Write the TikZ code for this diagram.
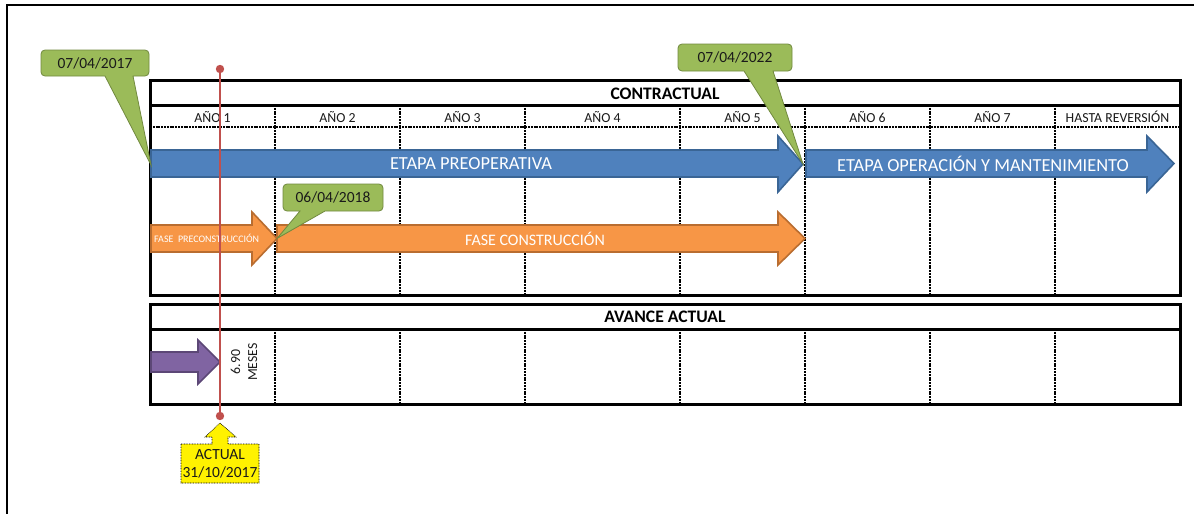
\documentclass[tikz,border=0pt]{standalone}
\usepackage{fontspec}
\setmainfont{Carlito}
\definecolor{blueF}{HTML}{4F81BD}
\definecolor{blueD}{HTML}{3A6595}
\definecolor{orF}{HTML}{F79646}
\definecolor{orD}{HTML}{B96D30}
\definecolor{grF}{HTML}{9BBB59}
\definecolor{grD}{HTML}{71893F}
\definecolor{puF}{HTML}{8064A2}
\definecolor{puD}{HTML}{5C4776}
\definecolor{redL}{HTML}{C0504D}
\definecolor{txtD}{HTML}{1A1A1A}
\begin{document}
\begin{tikzpicture}[x=1pt,y=-1pt,
  bord/.style={line width=3pt},
  hatch/.style={line width=1.2pt, dash pattern=on 2pt off 0.8pt},
  hhatch/.style={line width=1.8pt, dash pattern=on 2pt off 0.8pt},
  yr/.style={font=\fontsize{13.8}{14}\selectfont, text=txtD, inner sep=0pt},
  ttl/.style={font=\bfseries\fontsize{17.6}{18}\selectfont, text=black, inner sep=0pt},
  bluearr/.style={fill=blueF, draw=blueD, line width=1.6pt, line join=miter},
  orarr/.style={fill=orF, draw=orD, line width=1.6pt, line join=miter},
  puarr/.style={fill=puF, draw=puD, line width=1.6pt, line join=miter},
  arrtxt/.style={text=white, inner sep=0pt},
  callout/.style={fill=grF, draw=grD, line width=0.8pt},
  caltxt/.style={font=\fontsize{15.5}{16}\selectfont, text=txtD, inner sep=0pt},
  redline/.style={draw=redL, line width=2pt},
  reddot/.style={fill=redL, draw=none},
  ycall/.style={fill=yellow, draw=black, line width=0.6pt, dash pattern=on 0.8pt off 0.8pt}
]
\useasboundingbox (0,0) rectangle (1194,514);
% outer frame
\draw[line width=2.5pt] (1194,5) -- (7,5) -- (7,514);

% ---------- table CONTRACTUAL ----------
\fill[white] (150,80) rectangle (1180,295);
\foreach \x in {275,400,525,680,805,930,1055} {
  \draw[hatch] (\x,105) -- (\x,295);
}
\draw[hhatch] (150,127) -- (1180,127);
\draw[bord] (150,105) -- (1180,105);
\draw[bord] (150,80) rectangle (1180,295);
\node[ttl] (contractual) at (665,94) {CONTRACTUAL};
\node[yr] (a1) at (212.5,117) {AÑO 1};
\node[yr] (a2) at (337.5,117) {AÑO 2};
\node[yr] (a3) at (462.5,117) {AÑO 3};
\node[yr] (a4) at (602.5,117) {AÑO 4};
\node[yr] (a5) at (742.5,117) {AÑO 5};
\node[yr] (a6) at (867.5,117) {AÑO 6};
\node[yr] (a7) at (992.5,117) {AÑO 7};
\node[yr] (a8) at (1117.5,117) {HASTA REVERSIÓN};

% ---------- table AVANCE ACTUAL ----------
\foreach \x in {275,400,525,680,805,930,1055} {
  \draw[hatch] (\x,329) -- (\x,404);
}
\draw[bord] (150,329) -- (1180,329);
\draw[bord] (150,304) rectangle (1180,404);
\node[ttl] (avance) at (665,317) {AVANCE ACTUAL};

% ---------- arrows ----------
\draw[bluearr] (151,150) -- (778,150) -- (778,136) -- (803,164) -- (778,192) -- (778,177) -- (151,177) -- cycle;
\node[arrtxt, font=\fontsize{18.4}{19}\selectfont] (pre) at (471,163.5) {ETAPA PREOPERATIVA};
\draw[bluearr] (806,150) -- (1147,150) -- (1147,136) -- (1174,163.5) -- (1147,192) -- (1147,177) -- (806,177) -- cycle;
\node[arrtxt, font=\fontsize{18.4}{19}\selectfont] (oper) at (983,163.5) {ETAPA OPERACIÓN Y MANTENIMIENTO};

\draw[orarr] (151,225) -- (252,225) -- (252,212) -- (277,238.5) -- (252,265) -- (252,252) -- (151,252) -- cycle;
\node[arrtxt, anchor=west, font=\fontsize{10}{11}\selectfont] (prec) at (154,238.5) {FASE\ \ PRECONSTRUCCIÓN};
\draw[orarr] (277,225) -- (778,225) -- (778,212) -- (805,238.5) -- (778,265) -- (778,252) -- (277,252) -- cycle;
\node[arrtxt, font=\fontsize{16}{17}\selectfont] (cons) at (535,239) {FASE CONSTRUCCIÓN};

\draw[puarr] (151,352) -- (198,352) -- (198,340) -- (220,362) -- (198,384) -- (198,372) -- (151,372) -- cycle;
\node[yr, rotate=90, align=center, font=\fontsize{13.8}{17}\selectfont] (meses) at (244,362) {6.90\\MESES};

% ---------- red line ----------
\coordinate (rtop) at (220,69);
\coordinate (rbot) at (220,416);
\draw[redline] (rtop) -- (rbot);
\fill[reddot] (rtop) circle (4.2);
\fill[reddot] (rbot) circle (4.2);

% ---------- yellow callout ----------
\draw[ycall] (181,444) -- (212,444) -- (212,437) -- (205,437) -- (220,423) -- (236,437) -- (228,437) -- (228,444) -- (259,444) -- (259,483) -- (181,483) -- cycle;
\node[caltxt, align=center, font=\fontsize{15.5}{18}\selectfont] (actual) at (220,464) {ACTUAL\\31/10/2017};

% ---------- green callouts ----------
\draw[callout] (41,50) [rounded corners=4pt] -- (149,50) -- (149,76) [sharp corners] -- (133,76) -- (151,165) -- (105,76) [rounded corners=4pt] -- (41,76) -- cycle;
\node[caltxt] (d1) at (95,63) {07/04/2017};

\draw[callout] (678,44) [rounded corners=4pt] -- (792,44) -- (792,71) [sharp corners] -- (773,71) -- (803,164) -- (744,71) [rounded corners=4pt] -- (678,71) -- cycle;
\node[caltxt] (d2) at (735,57.5) {07/04/2022};

\draw[callout] (283,184) [rounded corners=4pt] -- (383,184) -- (383,211) [sharp corners] -- (325,211) -- (277,238.5) -- (300,211) [rounded corners=4pt] -- (283,211) -- cycle;
\node[caltxt] (d3) at (333,197.5) {06/04/2018};
\end{tikzpicture}
\end{document}
